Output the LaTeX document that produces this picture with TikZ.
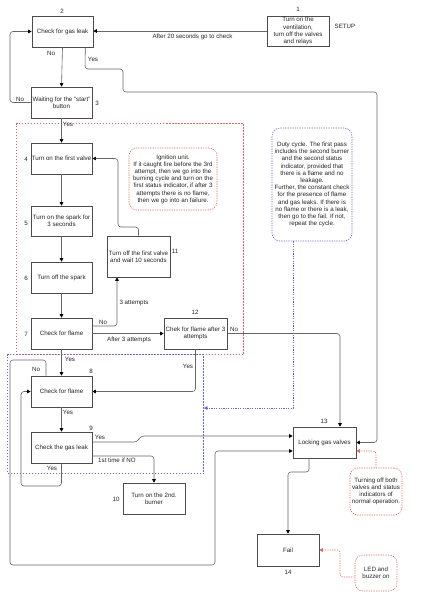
\documentclass[tikz,border=0pt]{standalone}
\usepackage{fontspec}
\setmainfont{Liberation Sans}
\usetikzlibrary{arrows.meta}
\definecolor{redline}{HTML}{E06666}
\definecolor{blueline}{HTML}{6666CC}
\begin{document}
\begin{tikzpicture}[x=1pt,y=-1pt,
  font=\fontsize{6.2}{7.2}\selectfont,
  box/.style={draw=black!70, line width=0.6pt, minimum width=61pt, minimum height=31pt, inner sep=1pt, align=center, text=black!85},
  note/.style={line width=0.6pt, dash pattern=on 1.2pt off 1.2pt, rounded corners=8pt, inner sep=1pt, align=center, text=black!85},
  zone/.style={line width=0.7pt, dash pattern=on 1.5pt off 1.5pt, inner sep=0pt},
  conn/.style={draw=black!60, line width=0.6pt, rounded corners=3pt, -{Triangle[length=3.5pt,width=3.5pt,color=black]}},
  redconn/.style={draw=redline, line width=0.6pt, dash pattern=on 1.2pt off 1.2pt, rounded corners=3pt, -{Triangle[length=3.5pt,width=3.5pt,color=redline]}},
  blueconn/.style={draw=blueline, line width=0.6pt, dash pattern=on 1.2pt off 1.2pt, -{Triangle[length=3.5pt,width=3.5pt,color=blueline]}},
  lbl/.style={inner sep=0pt, text=black!85}
]
\fill[white] (0,0) rectangle (424,600);
\useasboundingbox (0,0) rectangle (424,600);

% zones
\node[zone, draw=redline, minimum width=227pt, minimum height=231pt] (ignzone) at (130,239) {};
\node[zone, draw=blueline, minimum width=196pt, minimum height=119pt] (dutyzone) at (105.5,414) {};

% boxes
\node[box, minimum width=62pt, minimum height=30pt] (b1) at (298,31) {Turn on the\\ventilation,\\turn off the valves\\and relays};
\node[box] (b2) at (62.5,31.5) {Check for gas leak};
\node[box] (b3) at (61.5,102.5) {Waiting for the "start"\\button};
\node[box] (b4) at (61.5,158.5) {Turn on the first valve};
\node[box, minimum height=30pt] (b5) at (61.5,221) {Turn on the spark for\\3 seconds};
\node[box] (b6) at (61.5,277.5) {Turn off the spark};
\node[box] (b7) at (61.5,333.5) {Check for flame};
\node[box] (b8) at (61.5,391.5) {Check for flame};
\node[box] (b9) at (61.5,447.5) {Check the gas leak};
\node[box, minimum width=62pt] (b10) at (154,498.5) {Turn on the 2nd.\\burner};
\node[box, minimum width=63pt, minimum height=41pt] (b11) at (138.5,256.5) {Turn off the first valve\\and wait 10 seconds};
\node[box, minimum width=63pt] (b12) at (195.5,333.5) {Chek for flame after 3\\attempts};
\node[box, minimum width=63pt] (b13) at (324.5,442.5) {Locking gas valves};
\node[box, minimum width=62pt, minimum height=32pt] (b14) at (288,550) {Fail};

% notes
\node[note, draw=redline, minimum width=88pt, minimum height=62pt] (ign) at (173,179) {Ignition unit.\\If it caught fire before the 3rd\\attempt, then we go into the\\burning cycle and turn on the\\first status indicator, if after 3\\attempts there is no flame,\\then we go into an failure.};
\node[note, draw=blueline, minimum width=80pt, minimum height=113pt] (duty) at (312,184.5) {Duty cycle. The first pass\\includes the second burner\\and the second status\\indicator, provided that\\there is a flame and no\\leakage.\\Further, the constant check\\for the presence of flame\\and gas leaks. If there is\\no flame or there is a leak,\\then go to the fail. If not,\\repeat the cycle.};
\node[note, draw=redline, minimum width=52pt, minimum height=47pt] (turn) at (376,491.5) {Turning off both\\valves and status\\indicators of\\normal operation.};
\node[note, draw=redline, minimum width=42pt, minimum height=36pt] (led) at (376,573) {LED and\\buzzer on};

% number labels
\node[lbl] (n1) at (298,9) {1};
\node[lbl] (setup) at (345,26) {SETUP};
\node[lbl] (n2) at (62,11) {2};
\node[lbl] (n3) at (97,103) {3};
\node[lbl] (n4) at (26,159) {4};
\node[lbl] (n5) at (26,223) {5};
\node[lbl] (n6) at (26,278) {6};
\node[lbl] (n7) at (26,334) {7};
\node[lbl] (n8) at (91,371) {8};
\node[lbl] (n9) at (91,428) {9};
\node[lbl] (n10) at (116,499) {10};
\node[lbl] (n11) at (175,251) {11};
\node[lbl] (n12) at (195,312) {12};
\node[lbl] (n13) at (324,421) {13};
\node[lbl] (n14) at (288,572) {14};

% connectors
\draw[conn] (b1.west) -- (b2.east |- b1.west);
\draw[conn] (b2.south) -- (b3.north);
\draw[conn] ([xshift=-8pt]b2.south east) -- (85,69) -- (123,69) -- (123,92) -- (377,92) -- (377,0 |- b13.east) -- (b13.east);
\draw[conn] (b3.west) -- (10,0 |- b3.west) -- (10,0 |- b2.west) -- (b2.west);
\draw[conn] (b3.south) -- (b4.north);
\draw[conn] (b4.south) -- (b5.north);
\draw[conn] (b5.south) -- (b6.north);
\draw[conn] (b6.south) -- (b7.north);
\draw[conn] (b7.east |- 0,326) -- (117,326) -- (117,0 |- b11.south);
\draw[conn] (b11.north) -- (138.5,227) -- (118,227) -- (118,0 |- b4.east) -- (b4.east);
\draw[conn] (b7.east) -- (b12.west);
\draw[conn] (b12.east) -- (340,0 |- b12.east) -- (340,0 |- b13.north);
\draw[conn] (b12.south) -- (195.5,0 |- b8.east) -- (b8.east);
\draw[conn] (b7.south) -- (b8.north);
\draw[conn] (46,0 |- b8.north) -- (46,360) -- (10,360) -- (10,565) -- (215,565) -- (215,451) -- (b13.west |- 0,451);
\draw[conn] (b8.south) -- (b9.north);
\draw[conn] (b9.south) -- (61.5,486) -- (21,486) -- (21,0 |- b8.west) -- (b8.west);
\draw[conn] (b9.east |- 0,442) -- (137,442) -- (141,436) -- (b13.west |- 0,436);
\draw[conn] (b9.east |- 0,456) -- (154,456) -- (b10.north);
\draw[conn] (309,0 |- b13.south) -- (309,472) -- (288,472) -- (b14.north);
\draw[redconn] (turn.north) -- (376,451) -- (b13.east |- 0,451);
\draw[redconn] (led.west |- 0,577) -- (340,577) -- (340,0 |- b14.east) -- (b14.east);
\draw[blueconn] (293,0 |- duty.south) -- (293,408) -- (dutyzone.east |- 0,408);

% connector labels
\node[lbl] (l1) at (192.5,37) {After 20 seconds go to check};
\node[lbl] (l2) at (51,53) {No};
\node[lbl] (l3) at (93,59) {Yes};
\node[lbl] (l4) at (20,99) {No};
\node[lbl] (l5) at (68,124) {Yes};
\node[lbl] (l6) at (103,322) {No};
\node[lbl] (l7) at (134,303) {3 attempts};
\node[lbl] (l8) at (129,340) {After 3 attempts};
\node[lbl] (l9) at (234,329) {No};
\node[lbl] (l10) at (188,366) {Yes};
\node[lbl] (l11) at (70,359) {Yes};
\node[lbl] (l12) at (36,369) {No};
\node[lbl] (l13) at (68,412) {Yes};
\node[lbl] (l14) at (52,468) {Yes};
\node[lbl] (l15) at (100,437) {Yes};
\node[lbl] (l16) at (117,460) {1st time if NO};
\end{tikzpicture}
\end{document}
